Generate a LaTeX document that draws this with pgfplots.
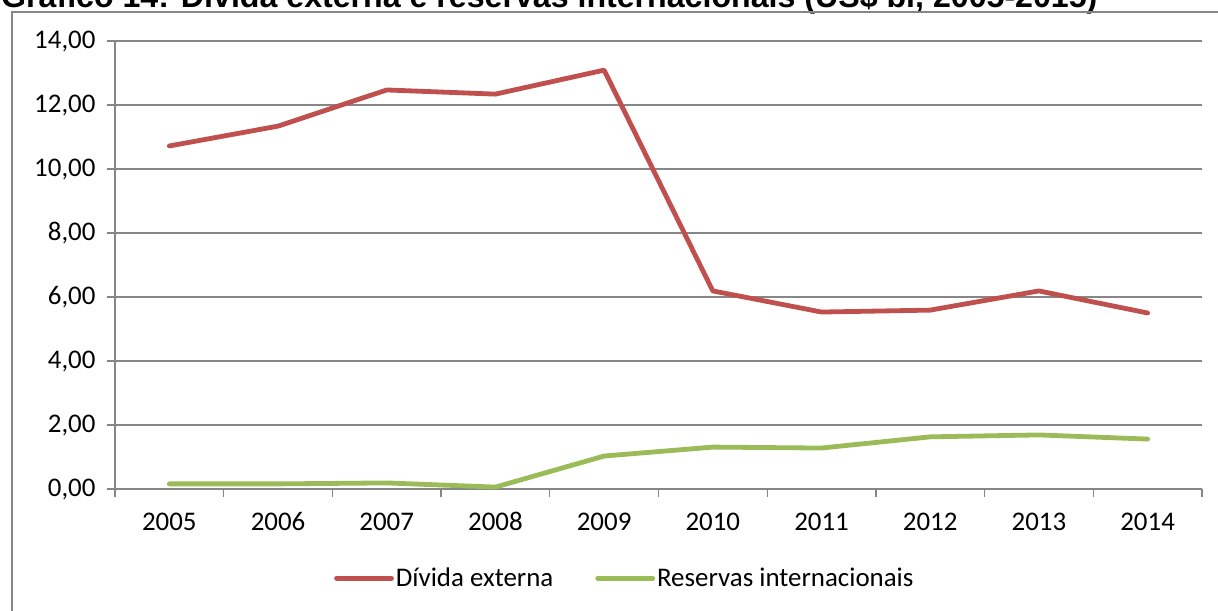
\documentclass[border=0pt]{standalone}
\usepackage{pgfplots}
\pgfplotsset{compat=1.18}
\usepackage{fontspec}
\setmainfont{Carlito}
\newfontfamily\titlefont{Liberation Sans}

\definecolor{divida}{HTML}{C0504D}
\definecolor{reservas}{HTML}{9BBB59}
\definecolor{gridgray}{HTML}{868686}

\begin{document}
\begin{tikzpicture}[x=1bp,y=1bp]
\useasboundingbox (0,0) rectangle (1218,-611);
\clip (0,0) rectangle (1218,-611);

% title (cut at the top edge)
\node[anchor=base west, inner sep=0pt] at (1,-8)
  {\resizebox{1096bp}{!}{\titlefont\bfseries Gráfico 14: Dívida externa e reservas internacionais (US\$ bi, 2005-2015)}};

% chart frame
\draw[gridgray, line width=1.3bp] (12,-12) rectangle (1260,-660);

\begin{axis}[
  at={(115bp,-489bp)}, anchor=south west,
  scale only axis, width=1087bp, height=448bp,
  xmin=-0.5, xmax=9.5, ymin=0, ymax=14,
  axis x line*=bottom, axis y line*=left,
  axis line style={-, draw=gridgray, line width=1.3bp},
  xtick={0,...,9},
  xticklabels={2005,2006,2007,2008,2009,2010,2011,2012,2013,2014},
  minor xtick={-0.5,0.5,...,9.5},
  major x tick style={draw=none},
  minor x tick style={draw=gridgray, line width=1.3bp},
  minor tick length=8bp,
  ytick={0,2,...,14},
  major tick length=8bp,
  y tick style={draw=gridgray, line width=1.3bp},
  tick align=outside,
  ymajorgrids,
  grid style={draw=gridgray, line width=1.3bp},
  /pgf/number format/fixed,
  /pgf/number format/fixed zerofill,
  /pgf/number format/precision=2,
  /pgf/number format/use comma,
  /pgf/number format/assume math mode=true,
  tick label style={font=\fontsize{27}{30}\selectfont},
  xticklabel style={text height=17bp, text depth=0bp, yshift=-13bp},
  yticklabel style={xshift=-8bp},
  legend columns=2,
  legend style={draw=none, fill=none, at={(0.469,-0.199)}, anchor=center,
    font=\fontsize{27}{30}\selectfont,
    /tikz/every even column/.append style={column sep=40bp}},
  legend image code/.code={\draw[#1] (0bp,0bp) -- (55bp,0bp);},
  every axis plot/.append style={line width=4.8bp, line cap=round, line join=round},
]
\addplot[divida] coordinates {
  (0,10.72) (1,11.34) (2,12.47) (3,12.34) (4,13.09)
  (5,6.19) (6,5.53) (7,5.59) (8,6.19) (9,5.50)};
\addlegendentry{Dívida externa}
\addplot[reservas] coordinates {
  (0,0.16) (1,0.16) (2,0.19) (3,0.06) (4,1.03)
  (5,1.31) (6,1.28) (7,1.63) (8,1.69) (9,1.56)};
\addlegendentry{Reservas internacionais}
\end{axis}
\end{tikzpicture}
\end{document}
